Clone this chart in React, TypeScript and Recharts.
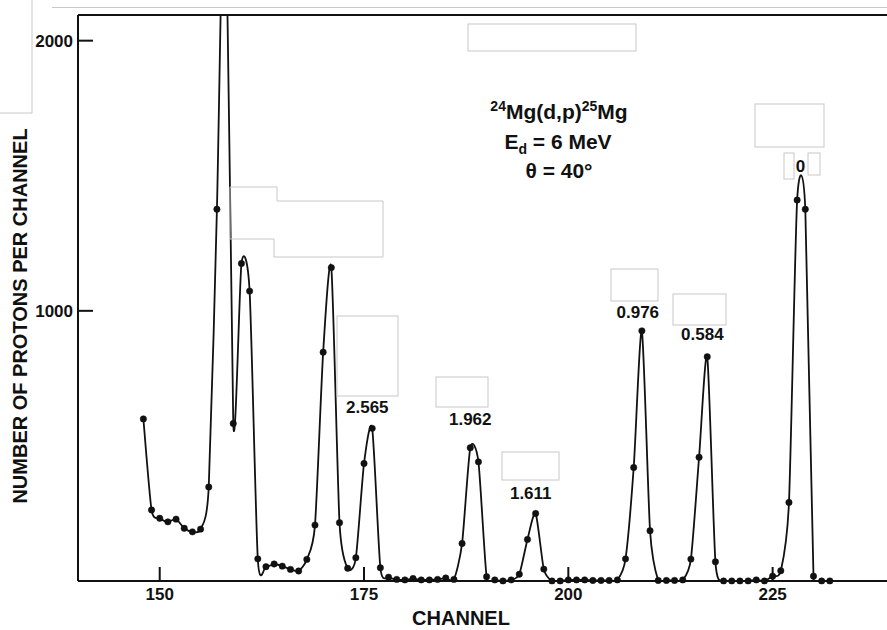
import React from "react";
import { LineChart, Line, XAxis, YAxis, ReferenceDot } from "recharts";

// channel numbers and proton counts
const channels = [
  148, 149, 150, 151, 152, 153, 154, 155, 156, 157, 158, 159, 160, 161, 162,
  163, 164, 165, 166, 167, 168, 169, 170, 171, 172, 173, 174, 175, 176, 177,
  178, 179, 180, 181, 182, 183, 184, 185, 186, 187, 188, 189, 190, 191, 192,
  193, 194, 195, 196, 197, 198, 199, 200, 201, 202, 203, 204, 205, 206, 207,
  208, 209, 210, 211, 212, 213, 214, 215, 216, 217, 218, 219, 220, 221, 222,
  223, 224, 225, 226, 227, 228, 229, 230, 231, 232,
];
const counts = [
  600, 263, 232, 219, 229, 195, 182, 192, 348, 1376, 2700, 583, 1175, 1073, 82,
  53, 63, 55, 43, 37, 80, 207, 847, 1160, 216, 47, 86, 435, 565, 49,
  14, 6, 4, 9, 4, 4, 6, 11, 6, 139, 493, 441, 16, 4, 0,
  4, 25, 154, 250, 44, 0, 0, 4, 4, 4, 2, 2, 2, 4, 82,
  420, 926, 186, 2, 2, 2, 4, 81, 458, 830, 71, 0, 0, 0, 0,
  4, 0, 18, 38, 291, 1410, 1376, 18, 0, 0,
];

const xTicks = [150, 175, 200, 225];
const yTicks = [1000, 2000];

// excitation energies (MeV) written over the peaks
const peakNames = ["2.565", "1.962", "1.611", "0.976", "0.584", "0"];
const peakLabelChannel = [175.4, 188.0, 195.4, 208.5, 216.4, 228.4];
const peakLabelCount = [644, 599, 326, 995, 914, 1536];

const data = channels.map((c, i) => ({ channel: c, count: counts[i] }));
const peaks = peakNames.map((n, i) => ({
  name: n,
  x: peakLabelChannel[i],
  y: peakLabelCount[i],
}));

// empty grey boxes left on the scanned page
const blankBoxes = [
  [468, 24, 168, 27],
  [337, 316, 61, 80],
  [436, 377, 52, 30],
  [502, 452, 57, 28],
  [611, 269, 47, 32],
  [673, 294, 53, 31],
  [755, 104, 69, 43],
  [784, 153, 10, 26],
  [808, 153, 12, 22],
];

const FONT = "'Liberation Sans', Arial, Helvetica, sans-serif";
const INK = "#111";

// smooth hand-drawn look: cardinal spline through the points
const cardinal = (tension: number) => (ctx: any) => {
  let pts: number[][] = [];
  return {
    areaStart() {},
    areaEnd() {},
    lineStart() {
      pts = [];
    },
    point(x: number, y: number) {
      pts.push([+x, +y]);
    },
    lineEnd() {
      const n = pts.length;
      if (!n) return;
      const k = (1 - tension) / 6;
      ctx.moveTo(pts[0][0], pts[0][1]);
      for (let i = 0; i < n - 1; i++) {
        const p0 = pts[Math.max(i - 1, 0)];
        const p1 = pts[i];
        const p2 = pts[i + 1];
        const p3 = pts[Math.min(i + 2, n - 1)];
        ctx.bezierCurveTo(
          p1[0] + k * (p2[0] - p0[0]),
          p1[1] + k * (p2[1] - p0[1]),
          p2[0] - k * (p3[0] - p1[0]),
          p2[1] - k * (p3[1] - p1[1]),
          p2[0],
          p2[1]
        );
      }
    },
  };
};

const tickStyle = { fill: INK, fontSize: 17, fontWeight: 700, fontFamily: FONT };
const axisPen = { stroke: INK, strokeWidth: 2 };

export default function App() {
  return (
    <div
      style={{
        position: "absolute",
        left: 0,
        top: 0,
        width: 887,
        height: 630,
        overflow: "hidden",
        background: "#fff",
      }}
    >
      <LineChart
        width={900}
        height={630}
        data={data}
        margin={{ top: 14, right: 6, bottom: 48, left: 77 }}
      >
        <XAxis
          dataKey="channel"
          type="number"
          domain={[140, 239.73]}
          ticks={xTicks}
          height={1}
          tickSize={-14}
          tickMargin={21}
          axisLine={axisPen}
          tickLine={axisPen}
          tick={tickStyle}
        />
        <XAxis
          xAxisId="top"
          orientation="top"
          type="number"
          domain={[140, 239.73]}
          ticks={xTicks}
          height={1}
          tickSize={-10}
          tick={false}
          axisLine={axisPen}
          tickLine={axisPen}
        />
        <YAxis
          type="number"
          domain={[0, 2095]}
          allowDataOverflow
          ticks={yTicks}
          width={1}
          tickSize={-15}
          tickMargin={20}
          axisLine={axisPen}
          tickLine={axisPen}
          tick={tickStyle}
        />
        <YAxis
          yAxisId="r"
          orientation="right"
          type="number"
          domain={[0, 2095]}
          ticks={yTicks}
          width={1}
          tickSize={-12}
          tick={false}
          axisLine={axisPen}
          tickLine={axisPen}
        />
        <Line
          dataKey="count"
          type={cardinal(0.3) as any}
          stroke={INK}
          strokeWidth={1.8}
          dot={{ r: 3.2, fill: INK, stroke: INK, strokeWidth: 0.5, clipDot: false }}
          activeDot={false}
          isAnimationActive={false}
        />
        {peaks.map((p) => (
          <ReferenceDot
            key={p.name}
            x={p.x}
            y={p.y}
            r={0}
            label={{
              value: p.name,
              position: "center",
              fill: INK,
              fontSize: 17,
              fontWeight: 700,
              fontFamily: FONT,
            }}
          />
        ))}
      </LineChart>

      <svg
        width={887}
        height={630}
        style={{ position: "absolute", left: 0, top: 0, pointerEvents: "none" }}
      >
        <g fill="none" stroke="#c8c8c8" strokeWidth={1}>
          <path d="M32,0 V113 H0" />
          <path d="M52,7.5 H887" />
          <path d="M230,187 H277 V201 H383 V257 H274 V239 H230 Z" />
          {blankBoxes.map(([x, y, w, h], i) => (
            <rect key={i} x={x} y={y} width={w} height={h} />
          ))}
        </g>
        <g fill={INK} fontFamily={FONT} fontWeight={700} textAnchor="middle">
          <text x={559} y={119} fontSize={21}>
            <tspan fontSize={14} dy={-8}>24</tspan>
            <tspan dy={8}>Mg(d,p)</tspan>
            <tspan fontSize={14} dy={-8}>25</tspan>
            <tspan dy={8}>Mg</tspan>
          </text>
          <text x={558} y={149} fontSize={21}>
            E<tspan fontSize={14} dy={5}>d</tspan>
            <tspan dy={-5}> = 6 MeV</tspan>
          </text>
          <text x={559} y={178} fontSize={21}>
            θ = 40°
          </text>
          <text x={461} y={625} fontSize={20}>
            CHANNEL
          </text>
          <text transform="translate(27, 316) rotate(-90)" fontSize={20}>
            NUMBER OF PROTONS PER CHANNEL
          </text>
        </g>
      </svg>
    </div>
  );
}
